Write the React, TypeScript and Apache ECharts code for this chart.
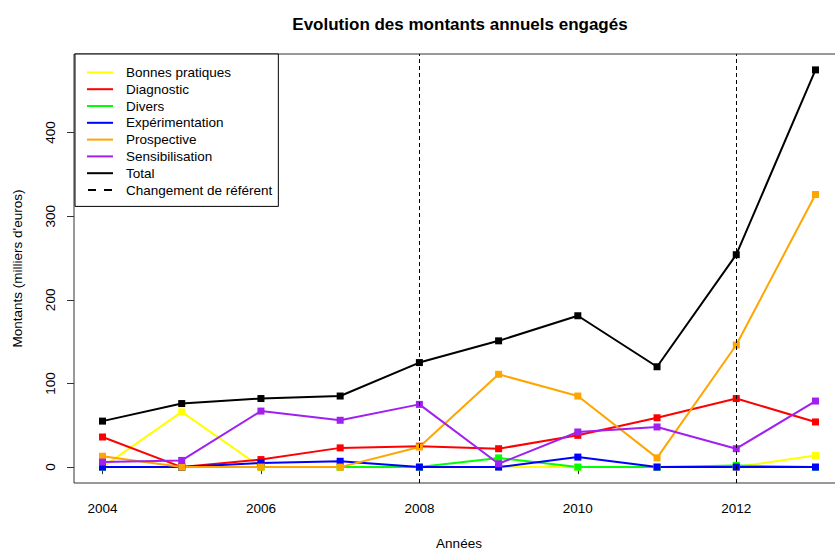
import React, { useEffect, useRef } from "react";
import * as echarts from "echarts";

const years = [2004, 2005, 2006, 2007, 2008, 2009, 2010, 2011, 2012, 2013];
const bonnesPratiques = [0, 66, 0, 0, 0, 0, 0, 0, 0, 14];
const diagnostic = [36, 0, 9, 23, 25, 22, 38, 59, 82, 54];
const divers = [0, 0, 0, 0, 0, 11, 0, 0, 2, 0];
const experimentation = [0, 0, 5, 7, 0, 0, 12, 0, 0, 0];
const prospective = [13, 0, 0, 0, 24, 111, 85, 11, 146, 326];
const sensibilisation = [6, 8, 67, 56, 75, 4, 42, 48, 22, 79];
const total = [55, 76, 82, 85, 125, 151, 181, 120, 254, 475];
const changeYears = [2008, 2012];
const xTicks = [2004, 2006, 2008, 2010, 2012];
const yTicks = [0, 100, 200, 300, 400];

const seriesDefs = [
  { name: "Bonnes pratiques", data: bonnesPratiques, color: "#FFFF00" },
  { name: "Diagnostic", data: diagnostic, color: "#FF0000" },
  { name: "Divers", data: divers, color: "#00FF00" },
  { name: "Expérimentation", data: experimentation, color: "#0000FF" },
  { name: "Prospective", data: prospective, color: "#FFA500" },
  { name: "Sensibilisation", data: sensibilisation, color: "#A020F0" },
  { name: "Total", data: total, color: "#000000" },
];

const FONT = "'Liberation Sans', Arial, sans-serif";

export default function App() {
  const ref = useRef<HTMLDivElement>(null);
  useEffect(() => {
    if (!ref.current) return;
    const chart = echarts.init(ref.current, undefined, { renderer: "svg" });
    const solidIcon = "path://M0,0h26v2h-26z";
    const dashIcon = "path://M0,0h8v2h-8zM16,0h8v2h-8z";
    const series: any[] = seriesDefs.map((s) => ({
      name: s.name,
      type: "line",
      data: years.map((y, i) => [y, s.data[i]]),
      symbol: "rect",
      symbolSize: 7,
      showSymbol: true,
      color: s.color,
      lineStyle: { color: s.color, width: 2 },
      itemStyle: { color: s.color },
      z: 3,
    }));
    series.push({
      name: "Changement de référent",
      type: "line",
      data: [],
      color: "#000",
      lineStyle: { color: "#000", width: 1, type: "dashed" },
      markLine: {
        silent: true,
        symbol: "none",
        label: { show: false },
        lineStyle: { color: "#000", width: 1, type: [4, 3] },
        data: changeYears.map((y) => ({ xAxis: y })),
      },
    });
    chart.setOption({
      animation: false,
      backgroundColor: "#fff",
      textStyle: { fontFamily: FONT },
      title: {
        text: "Evolution des montants annuels engagés",
        left: 455,
        top: 11,
        textAlign: "center",
        textStyle: { fontFamily: FONT, fontSize: 17, fontWeight: "bold", color: "#000" },
      },
      legend: {
        orient: "vertical",
        left: 75,
        top: 54,
        padding: [10, 6, 8, 12],
        borderColor: "#000",
        borderWidth: 1,
        backgroundColor: "#fff",
        itemWidth: 26,
        itemHeight: 2,
        itemGap: 0,
        selectedMode: false,
        textStyle: {
          fontFamily: FONT,
          fontSize: 13.5,
          color: "#000",
          lineHeight: 16.8,
          padding: [0, 0, 0, 8],
        },
        data: [
          ...seriesDefs.map((s) => ({ name: s.name, icon: solidIcon })),
          { name: "Changement de référent", icon: dashIcon },
        ],
        z: 10,
      },
      grid: {
        left: 74,
        top: 54,
        width: 770,
        height: 429,
        show: true,
        outerBoundsMode: "none",
        containLabel: false,
        borderColor: "#333",
        borderWidth: 1,
        backgroundColor: "transparent",
      },
      xAxis: {
        type: "value",
        min: 2003.64,
        max: 2013.36,
        name: "Années",
        nameLocation: "middle",
        nameGap: 53,
        nameTextStyle: { fontFamily: FONT, fontSize: 13.5, color: "#000" },
        axisLine: { show: false },
        splitLine: { show: false },
        axisTick: { show: true, length: 7, customValues: xTicks, lineStyle: { color: "#333" } },
        axisLabel: {
          customValues: xTicks,
          margin: 18,
          fontFamily: FONT,
          fontSize: 13.5,
          color: "#000",
          formatter: (v: number) => String(v),
        },
      },
      yAxis: {
        type: "value",
        min: -19,
        max: 494,
        name: "Montants (milliers d'euros)",
        nameLocation: "middle",
        nameGap: 50,
        nameRotate: 90,
        nameTextStyle: { fontFamily: FONT, fontSize: 13.5, color: "#000" },
        axisLine: { show: false },
        splitLine: { show: false },
        axisTick: { show: true, length: 7, customValues: yTicks, lineStyle: { color: "#333" } },
        axisLabel: {
          customValues: yTicks,
          rotate: 90,
          margin: 17,
          fontFamily: FONT,
          fontSize: 13.5,
          color: "#000",
          formatter: (v: number) => String(v),
        },
      },
      series,
    });
    return () => chart.dispose();
  }, []);
  return (
    <div
      ref={ref}
      style={{ position: "fixed", left: 0, top: 0, width: 835, height: 549, background: "#fff" }}
    />
  );
}
